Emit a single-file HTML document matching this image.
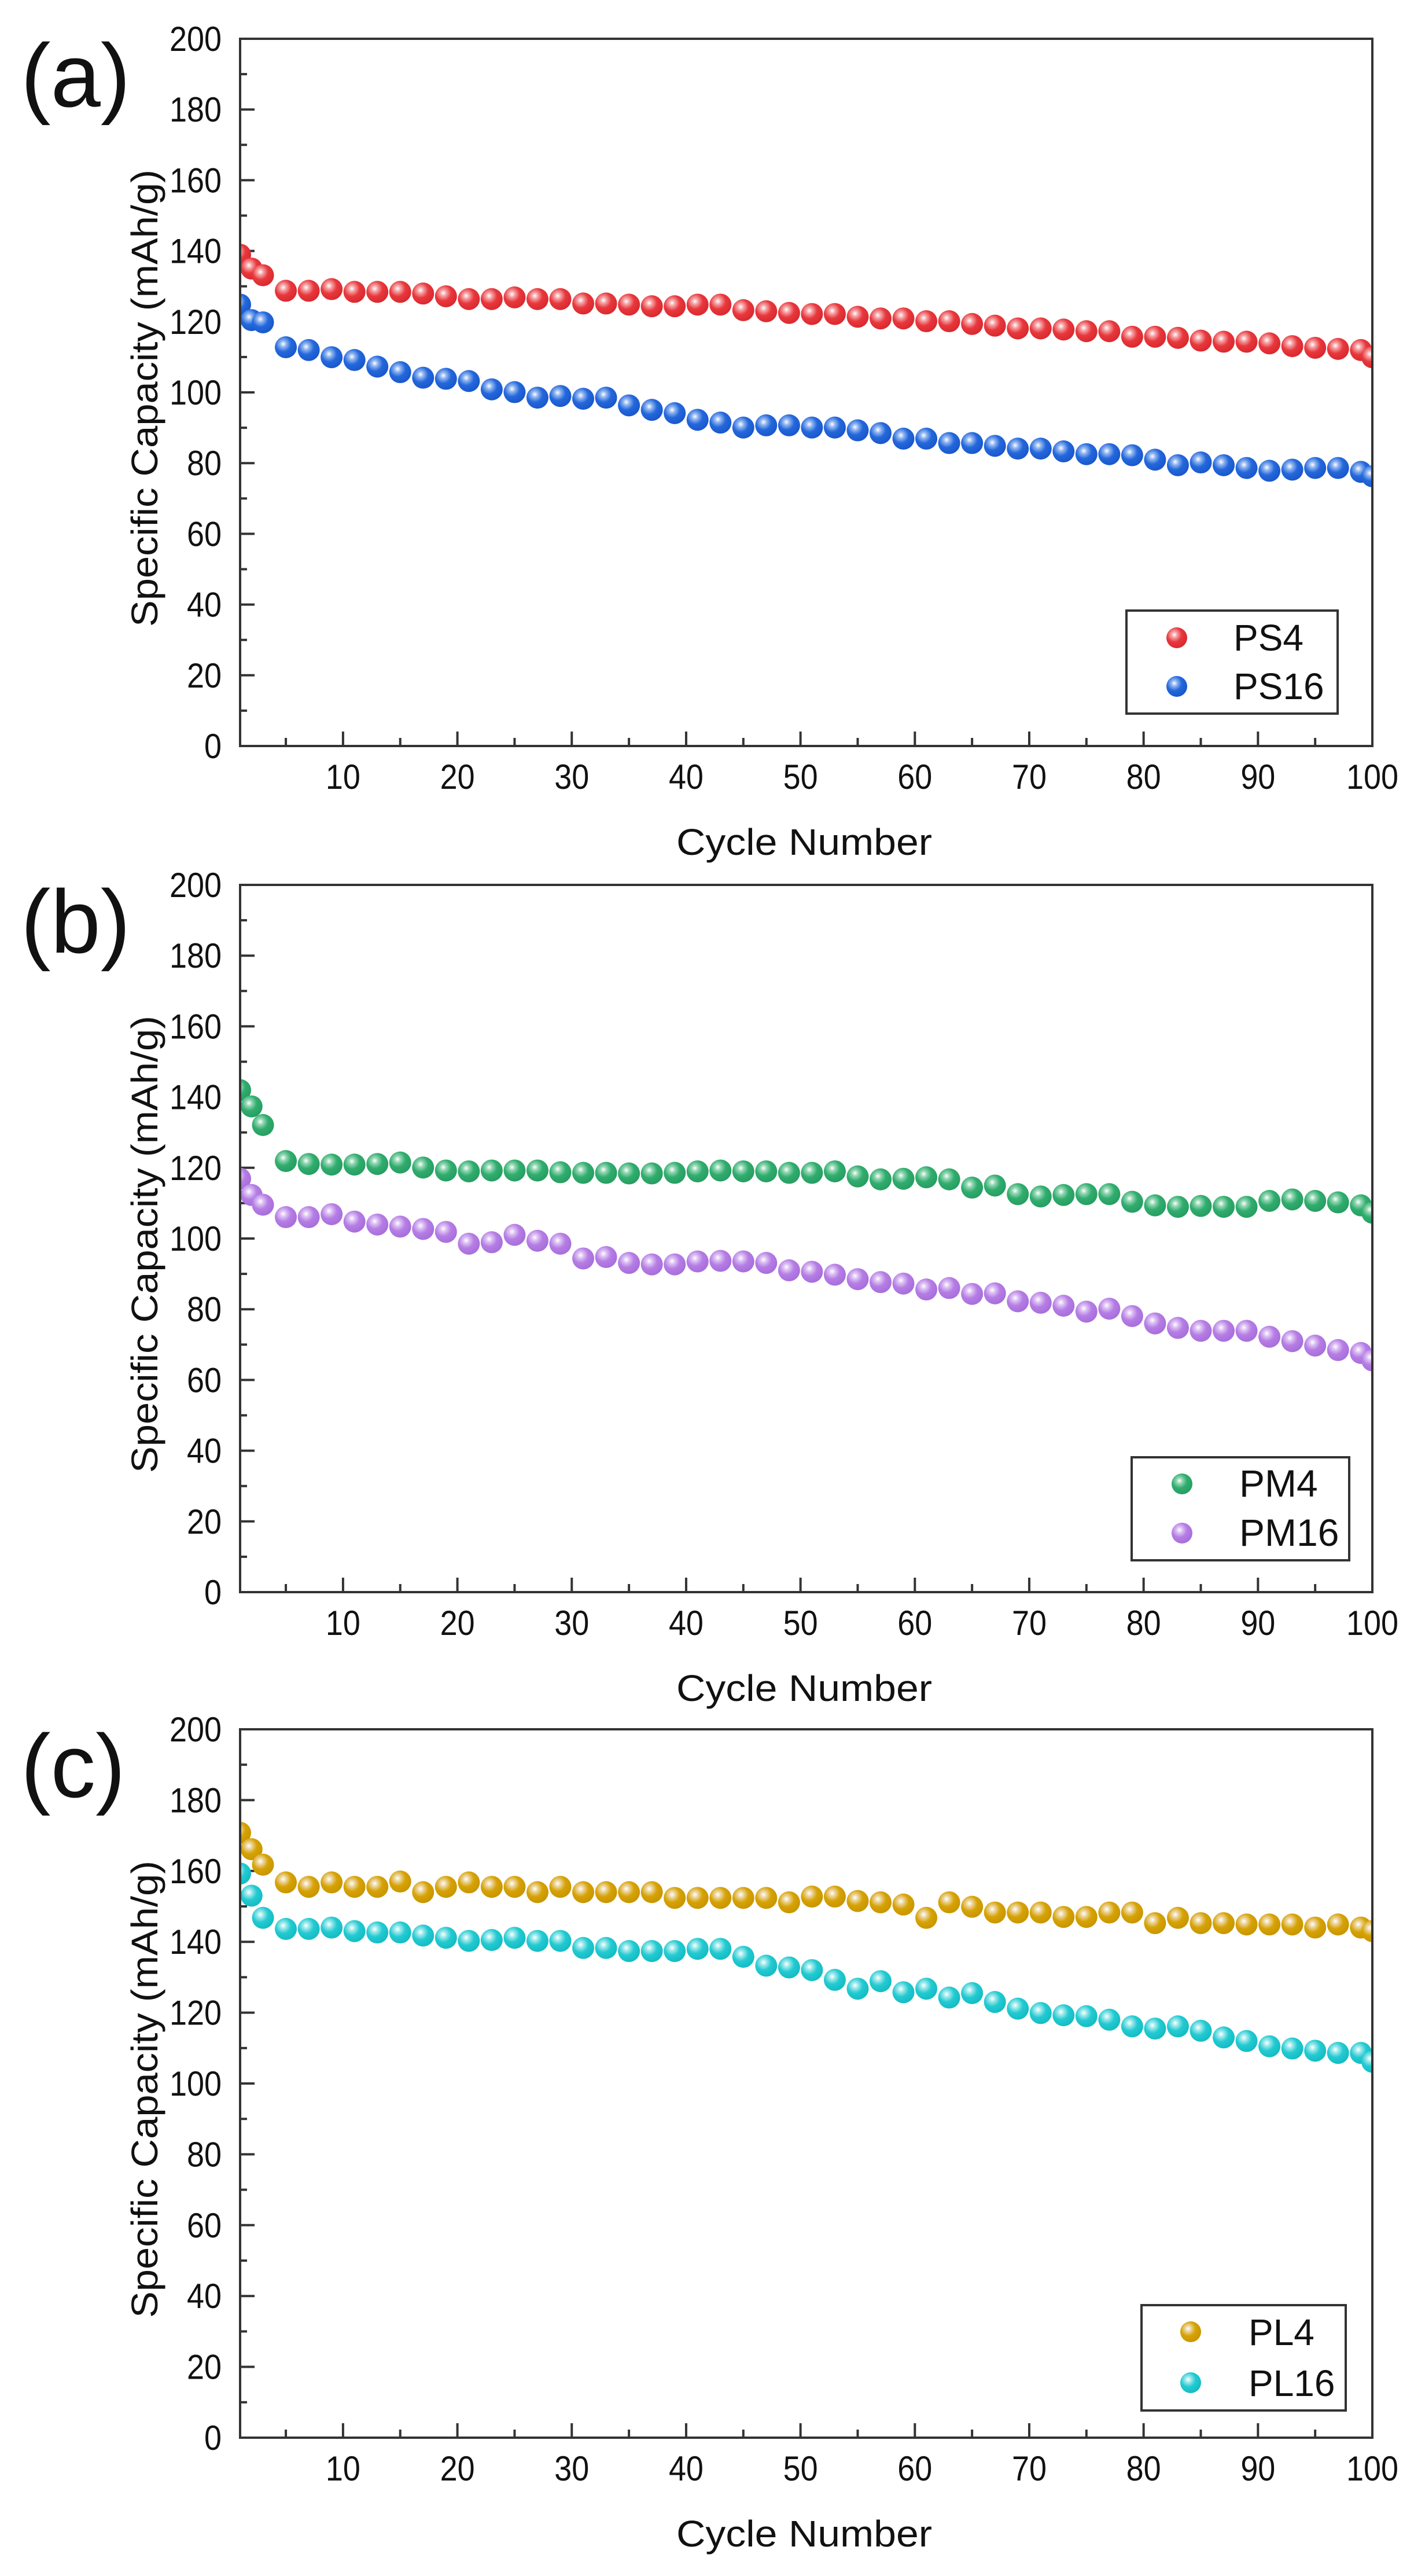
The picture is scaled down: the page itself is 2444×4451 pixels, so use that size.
<!DOCTYPE html>
<html><head><meta charset="utf-8">
<style>
html,body{margin:0;padding:0;background:#fff;}
svg{display:block;}
text{font-family:"Liberation Sans",Arial,sans-serif;fill:#111;}
</style></head>
<body>
<svg id="s" width="2444" height="4451" viewBox="0 0 2444 4451" xmlns="http://www.w3.org/2000/svg">
<defs>
<radialGradient id="g0" cx="0.38" cy="0.35" r="0.65"><stop offset="0" stop-color="#fff"/><stop offset="0.22" stop-color="#f5a0a2"/><stop offset="0.55" stop-color="#e8383d"/><stop offset="1" stop-color="#d92a30"/></radialGradient>
<radialGradient id="g1" cx="0.38" cy="0.35" r="0.65"><stop offset="0" stop-color="#fff"/><stop offset="0.22" stop-color="#8fb4f0"/><stop offset="0.55" stop-color="#2468dc"/><stop offset="1" stop-color="#1a58cc"/></radialGradient>
<radialGradient id="g2" cx="0.38" cy="0.35" r="0.65"><stop offset="0" stop-color="#fff"/><stop offset="0.22" stop-color="#92d6b2"/><stop offset="0.55" stop-color="#30ad6e"/><stop offset="1" stop-color="#289e62"/></radialGradient>
<radialGradient id="g3" cx="0.38" cy="0.35" r="0.65"><stop offset="0" stop-color="#fff"/><stop offset="0.22" stop-color="#dcc0f4"/><stop offset="0.55" stop-color="#b57de4"/><stop offset="1" stop-color="#a86fdc"/></radialGradient>
<radialGradient id="g4" cx="0.38" cy="0.35" r="0.65"><stop offset="0" stop-color="#fff"/><stop offset="0.22" stop-color="#ecd49a"/><stop offset="0.55" stop-color="#d6a204"/><stop offset="1" stop-color="#c99600"/></radialGradient>
<radialGradient id="g5" cx="0.38" cy="0.35" r="0.65"><stop offset="0" stop-color="#fff"/><stop offset="0.22" stop-color="#9ae8ea"/><stop offset="0.55" stop-color="#22cad2"/><stop offset="1" stop-color="#16bcc4"/></radialGradient>
</defs>
</svg>
<script>
(function(){
var svg=document.getElementById('s');var NS='http://www.w3.org/2000/svg';
function el(t,a,txt,p){var e=document.createElementNS(NS,t);for(var k in a)e.setAttribute(k,a[k]);if(txt!=null)e.textContent=txt;(p||svg).appendChild(e);return e;}
var L=415,R=2372;
function X(c){return L+(c-1)*(R-L)/99;}
var cyc=[1,2,3];for(var c=5;c<=99;c+=2)cyc.push(c);cyc.push(100);
var panels=[
 {top:67,bot:1289,letter:'(a)',
  series:[{g:'g0',conv:function(d){return d/1.045;},d:[460,485,497,525,525,522,527,527,527,530,535,540,540,537,540,540,548,548,550,553,553,550,550,560,562,565,567,567,572,575,575,580,580,585,588,593,593,595,598,598,608,608,610,615,617,617,620,625,628,630,632,645]},
          {g:'g1',conv:function(d){return d/1.045;},d:[550,578,582,627,632,645,650,662,672,682,684,688,703,708,718,715,720,718,732,740,746,758,763,772,768,768,772,772,777,782,792,792,800,800,805,810,810,815,820,820,822,830,840,835,840,845,850,848,845,845,852,860]}],
  leg:{x1:1947,y1:1055,x2:2312,y2:1233,mx:2034,my:[1102,1186],tx:2132,tb:[1124,1208],fs:64,names:['PS4','PS16'],gs:['g0','g1']}},
 {top:1529,bot:2751,letter:'(b)',
  series:[{g:'g2',conv:function(d){return 1700+d/1.96;},d:[360,415,478,600,610,612,612,610,605,622,632,635,632,632,632,638,640,640,642,642,640,635,632,635,635,640,640,635,652,662,660,655,662,690,683,712,720,715,712,712,738,750,755,752,755,755,735,730,735,740,750,775]},
          {g:'g3',conv:function(d){return 1700+d/1.96;},d:[660,715,748,790,790,780,805,815,822,830,840,880,875,850,870,880,930,925,945,950,950,940,938,940,945,970,975,985,1000,1010,1015,1035,1030,1050,1048,1075,1080,1090,1110,1100,1125,1150,1165,1175,1175,1175,1195,1210,1225,1240,1250,1275]}],
  leg:{x1:1956,y1:2518,x2:2332,y2:2696,mx:2043,my:[2564,2649],tx:2142,tb:[2586,2671],fs:66,names:['PM4','PM16'],gs:['g2','g3']}},
 {top:2988,bot:4212,letter:'(c)',
  series:[{g:'g4',conv:function(d){return 3000+d/1.3067;},d:[218,255,290,330,340,330,340,340,328,352,340,330,340,340,352,340,352,352,352,352,365,365,365,365,365,375,362,362,372,375,380,410,375,385,398,398,398,408,408,398,398,422,410,422,422,425,425,425,432,425,432,440]},
          {g:'g5',conv:function(d){return 3000+d/1.3067;},d:[310,360,410,435,435,432,440,443,443,450,455,462,460,455,462,462,478,478,485,485,485,480,480,498,518,522,528,550,570,553,578,570,590,580,600,615,625,630,632,640,655,660,655,665,680,688,700,705,710,715,715,735]}],
  leg:{x1:1973,y1:3983,x2:2326,y2:4165,mx:2058,my:[4029,4117],tx:2158,tb:[4052,4140],fs:64,names:['PL4','PL16'],gs:['g4','g5']}}
];
panels.forEach(function(p,pi){
  var T=p.top,B=p.bot,H=B-T;
  function Y(v){return B-v*H/200;}
  var cp=el('clipPath',{id:'cp'+pi},null,svg.querySelector('defs'));
  el('rect',{x:L,y:T,width:R-L,height:H},null,cp);
  for(var v=0;v<=200;v+=10){var y=Y(v);var len=(v%20==0)?25:12;
    el('line',{x1:L,y1:y,x2:L+len,y2:y,stroke:'#333','stroke-width':4});
    if(v%20==0){var s=String(v);el('text',{x:383,y:y+21,'text-anchor':'end','font-size':60,textLength:s.length*30,lengthAdjust:'spacingAndGlyphs'},s);}}
  for(var c=5;c<=100;c+=5){var x=X(c);var len=(c%10==0)?25:14;
    el('line',{x1:x,y1:B,x2:x,y2:B-len,stroke:'#333','stroke-width':4});
    if(c%10==0){var s=String(c);el('text',{x:x,y:B+74,'text-anchor':'middle','font-size':60,textLength:s.length*30,lengthAdjust:'spacingAndGlyphs'},s);}}
  var g=el('g',{'clip-path':'url(#cp'+pi+')'});
  p.series.forEach(function(s){
    s.d.forEach(function(d,i){el('circle',{cx:X(cyc[i]),cy:s.conv(d),r:19,fill:'url(#'+s.g+')'},null,g);});
  });
  el('rect',{x:L,y:T,width:R-L,height:H,fill:'none',stroke:'#333','stroke-width':4});
  var lg=p.leg;
  el('rect',{x:lg.x1,y:lg.y1,width:lg.x2-lg.x1,height:lg.y2-lg.y1,fill:'#fff',stroke:'#333','stroke-width':4});
  for(var k=0;k<2;k++){
    el('circle',{cx:lg.mx,cy:lg.my[k],r:18,fill:'url(#'+lg.gs[k]+')'});
    el('text',{x:lg.tx,y:lg.tb[k],'font-size':lg.fs},lg.names[k]);
  }
  el('text',{x:1390,y:B+188,'text-anchor':'middle','font-size':64,textLength:442,lengthAdjust:'spacingAndGlyphs'},'Cycle Number');
  var cy=(T+B)/2+10;
  el('text',{x:0,y:0,'text-anchor':'middle','font-size':64,textLength:790,lengthAdjust:'spacingAndGlyphs',transform:'translate(272,'+cy+') rotate(-90)'},'Specific Capacity (mAh/g)');
  el('text',{x:36,y:T+117,'font-size':155},p.letter);
});
})();
</script>
</body></html>
